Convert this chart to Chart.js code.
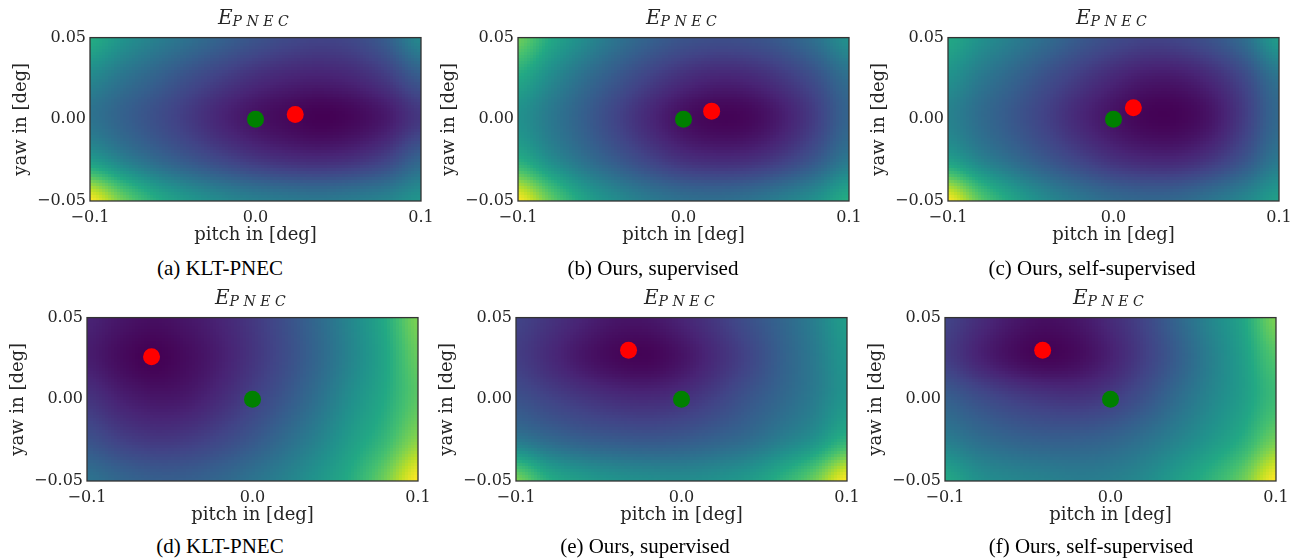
<!DOCTYPE html>
<html>
<head>
<meta charset="utf-8">
<script src="https://cdn.jsdelivr.net/npm/chart.js@4.4.1/dist/chart.umd.min.js"></script>
<style>
  body { margin: 0; background: #fff; }
  #fig { position: relative; width: 1302px; height: 559px; overflow: hidden; background: #fff; }
  .panel { position: absolute; }
  .ttl { position: absolute; transform: translate(-50%, -50%); font-family: 'DejaVu Serif'; font-style: italic; color: #262626; white-space: nowrap; line-height: 1; }
  .ttl .e { font-size: 20px; }
  .ttl .sub { font-size: 14px; letter-spacing: 4.5px; position: relative; top: 2px; }
  .cap { position: absolute; transform: translate(-50%, -50%); font-family: 'Liberation Serif'; font-size: 21px; color: #000; white-space: nowrap; }
</style>
</head>
<body>
<div id="fig"></div>
<script>
// tick values and labels
var pitchTicks = [-0.1, 0.0, 0.1];
var pitchTickLabels = ['\u22120.1', '0.0', '0.1'];
var yawTicks = [-0.05, 0.0, 0.05];
var yawTickLabels = ['\u22120.05', '0.00', '0.05'];

// sample grid of the energy maps (normalised 0..1)
var gridPitch = [-0.1, -0.08, -0.06, -0.04, -0.02, 0.0, 0.02, 0.04, 0.06, 0.08, 0.1];
var gridYaw = [0.05, 0.025, 0.0, -0.025, -0.05];

var energyA = [
  [0.62, 0.51, 0.43, 0.37, 0.31, 0.26, 0.22, 0.20, 0.22, 0.30, 0.47],
  [0.46, 0.38, 0.31, 0.24, 0.18, 0.13, 0.10, 0.09, 0.11, 0.17, 0.28],
  [0.38, 0.31, 0.24, 0.17, 0.10, 0.05, 0.02, 0.00, 0.02, 0.07, 0.16],
  [0.54, 0.43, 0.34, 0.27, 0.21, 0.16, 0.13, 0.12, 0.14, 0.20, 0.32],
  [1.00, 0.78, 0.62, 0.53, 0.47, 0.43, 0.41, 0.40, 0.42, 0.45, 0.52]
];
var energyB = [
  [0.78, 0.60, 0.48, 0.38, 0.31, 0.26, 0.24, 0.25, 0.29, 0.37, 0.50],
  [0.60, 0.47, 0.36, 0.27, 0.19, 0.13, 0.10, 0.11, 0.16, 0.24, 0.36],
  [0.50, 0.40, 0.30, 0.20, 0.11, 0.04, 0.01, 0.02, 0.08, 0.18, 0.32],
  [0.62, 0.48, 0.37, 0.28, 0.20, 0.14, 0.12, 0.13, 0.18, 0.27, 0.40],
  [1.00, 0.76, 0.58, 0.48, 0.41, 0.37, 0.36, 0.38, 0.43, 0.50, 0.62]
];
var energyC = [
  [0.60, 0.50, 0.42, 0.35, 0.28, 0.23, 0.20, 0.21, 0.26, 0.36, 0.55],
  [0.50, 0.40, 0.32, 0.24, 0.17, 0.11, 0.07, 0.07, 0.12, 0.22, 0.38],
  [0.44, 0.35, 0.27, 0.19, 0.11, 0.05, 0.01, 0.01, 0.06, 0.18, 0.34],
  [0.56, 0.44, 0.35, 0.27, 0.20, 0.14, 0.11, 0.11, 0.16, 0.26, 0.40],
  [1.00, 0.74, 0.58, 0.47, 0.40, 0.35, 0.33, 0.34, 0.39, 0.46, 0.56]
];
var energyD = [
  [0.10, 0.06, 0.04, 0.06, 0.10, 0.16, 0.24, 0.34, 0.46, 0.60, 0.80],
  [0.08, 0.03, 0.00, 0.03, 0.08, 0.15, 0.23, 0.33, 0.45, 0.58, 0.76],
  [0.15, 0.09, 0.06, 0.07, 0.12, 0.19, 0.27, 0.37, 0.49, 0.60, 0.74],
  [0.25, 0.19, 0.16, 0.17, 0.21, 0.27, 0.35, 0.44, 0.55, 0.66, 0.82],
  [0.38, 0.33, 0.30, 0.30, 0.33, 0.38, 0.44, 0.52, 0.62, 0.78, 1.00]
];
var energyE = [
  [0.20, 0.15, 0.10, 0.06, 0.06, 0.10, 0.16, 0.24, 0.32, 0.42, 0.55],
  [0.18, 0.12, 0.06, 0.02, 0.01, 0.05, 0.12, 0.20, 0.30, 0.40, 0.52],
  [0.25, 0.20, 0.16, 0.13, 0.12, 0.14, 0.19, 0.26, 0.33, 0.41, 0.52],
  [0.40, 0.34, 0.30, 0.28, 0.27, 0.28, 0.31, 0.35, 0.42, 0.50, 0.64],
  [0.80, 0.62, 0.55, 0.51, 0.49, 0.48, 0.50, 0.54, 0.63, 0.77, 1.00]
];
var energyF = [
  [0.20, 0.13, 0.07, 0.04, 0.06, 0.12, 0.20, 0.32, 0.45, 0.58, 0.80],
  [0.18, 0.10, 0.04, 0.01, 0.03, 0.09, 0.18, 0.29, 0.42, 0.55, 0.72],
  [0.30, 0.24, 0.19, 0.16, 0.15, 0.18, 0.25, 0.35, 0.45, 0.55, 0.68],
  [0.42, 0.36, 0.32, 0.30, 0.30, 0.32, 0.37, 0.44, 0.52, 0.62, 0.78],
  [0.60, 0.50, 0.46, 0.44, 0.42, 0.43, 0.47, 0.55, 0.64, 0.77, 1.00]
];

// ground truth (green) and estimate (red), one entry per panel
var gtPitch = [0, 0, 0, 0, 0, 0];
var gtYaw = [0, 0, 0, 0, 0, 0];
var estPitch = [0.024, 0.017, 0.012, -0.061, -0.032, -0.041];
var estYaw = [0.003, 0.005, 0.007, 0.026, 0.030, 0.030];

var captions = ['(a) KLT-PNEC', '(b) Ours, supervised', '(c) Ours, self-supervised',
                '(d) KLT-PNEC', '(e) Ours, supervised', '(f) Ours, self-supervised'];
var energies = [energyA, energyB, energyC, energyD, energyE, energyF];

// layout: plot area corner and caption centre
var layout = [
  { left: 90, top: 36, capX: 220, capY: 268 },
  { left: 518, top: 36, capX: 653, capY: 268 },
  { left: 948, top: 36, capX: 1092, capY: 268 },
  { left: 87, top: 316, capX: 220, capY: 546 },
  { left: 516, top: 316, capX: 645, capY: 546 },
  { left: 945, top: 316, capX: 1091, capY: 546 }
];
var plotW = 331, plotH = 165, yAxisW = 90, xAxisH = 50, padTop = 12, padRight = 22;

var viridisStops = [
  [68, 1, 84], [72, 36, 117], [65, 68, 135], [53, 95, 141], [42, 120, 142], [33, 145, 140],
  [34, 168, 132], [68, 191, 112], [122, 209, 81], [189, 223, 38], [253, 231, 37]
];

function viridis(t) {
  t = Math.max(0, Math.min(1, t));
  var f = t * (viridisStops.length - 1);
  var i = Math.min(Math.floor(f), viridisStops.length - 2);
  var u = f - i;
  var a = viridisStops[i], b = viridisStops[i + 1];
  return 'rgb(' + Math.round(a[0] + (b[0] - a[0]) * u) + ',' + Math.round(a[1] + (b[1] - a[1]) * u) + ',' + Math.round(a[2] + (b[2] - a[2]) * u) + ')';
}

function cubic(p0, p1, p2, p3, t) {
  return p1 + 0.5 * t * (p2 - p0 + t * (2 * p0 - 5 * p1 + 4 * p2 - p3 + t * (3 * (p1 - p2) + p3 - p0)));
}

function sample(grid, pitch, yaw) {
  var nx = gridPitch.length, ny = gridYaw.length;
  var fx = (pitch - gridPitch[0]) / (gridPitch[nx - 1] - gridPitch[0]) * (nx - 1);
  var fy = (gridYaw[0] - yaw) / (gridYaw[0] - gridYaw[ny - 1]) * (ny - 1);
  var ix = Math.min(Math.floor(fx), nx - 2), iy = Math.min(Math.floor(fy), ny - 2);
  var tx = fx - ix, ty = fy - iy;
  function g(r, c) {
    r = Math.max(0, Math.min(ny - 1, r));
    c = Math.max(0, Math.min(nx - 1, c));
    return grid[r][c];
  }
  var rows = [];
  for (var r = -1; r <= 2; r++) {
    rows.push(cubic(g(iy + r, ix - 1), g(iy + r, ix), g(iy + r, ix + 1), g(iy + r, ix + 2), tx));
  }
  return cubic(rows[0], rows[1], rows[2], rows[3], ty);
}

var heatmapPlugin = {
  id: 'heatmap',
  beforeDatasetsDraw: function (chart, args, opts) {
    var grid = opts.energy;
    if (!grid) return;
    var xs = chart.scales.x, ys = chart.scales.y, ctx = chart.ctx;
    var nx = 110, ny = 55;
    ctx.save();
    for (var i = 0; i < nx; i++) {
      var pa = xs.min + (xs.max - xs.min) * i / nx;
      var pb = xs.min + (xs.max - xs.min) * (i + 1) / nx;
      var L = Math.floor(xs.getPixelForValue(pa)), R = Math.ceil(xs.getPixelForValue(pb));
      for (var j = 0; j < ny; j++) {
        var qa = ys.max - (ys.max - ys.min) * j / ny;
        var qb = ys.max - (ys.max - ys.min) * (j + 1) / ny;
        var T = Math.floor(ys.getPixelForValue(qa)), B = Math.ceil(ys.getPixelForValue(qb));
        ctx.fillStyle = viridis(sample(grid, (pa + pb) / 2, (qa + qb) / 2));
        ctx.fillRect(L, T, R - L, B - T);
      }
    }
    ctx.restore();
  },
  afterDraw: function (chart) {
    var a = chart.chartArea, ctx = chart.ctx;
    ctx.save();
    ctx.strokeStyle = '#333333';
    ctx.lineWidth = 1.3;
    ctx.strokeRect(a.left, a.top, a.right - a.left, a.bottom - a.top);
    ctx.restore();
  }
};

var fig = document.getElementById('fig');
var textColor = '#262626';

layout.forEach(function (p, k) {
  var wrap = document.createElement('div');
  wrap.className = 'panel';
  wrap.style.left = (p.left - yAxisW) + 'px';
  wrap.style.top = (p.top - padTop) + 'px';
  var canvas = document.createElement('canvas');
  canvas.width = yAxisW + plotW + padRight;
  canvas.height = padTop + plotH + xAxisH;
  wrap.appendChild(canvas);
  fig.appendChild(wrap);

  var ttl = document.createElement('div');
  ttl.className = 'ttl';
  ttl.innerHTML = '<span class="e">E</span><span class="sub">PNEC</span>';
  ttl.style.left = (p.left + plotW / 2) + 'px';
  ttl.style.top = (p.top - 19) + 'px';
  fig.appendChild(ttl);

  var cap = document.createElement('div');
  cap.className = 'cap';
  cap.textContent = captions[k];
  cap.style.left = p.capX + 'px';
  cap.style.top = p.capY + 'px';
  fig.appendChild(cap);

  new Chart(canvas.getContext('2d'), {
    type: 'scatter',
    data: {
      datasets: [
        { data: [{ x: gtPitch[k], y: gtYaw[k] }], backgroundColor: '#008000', borderWidth: 0, pointRadius: 8.5, pointHoverRadius: 8.5 },
        { data: [{ x: estPitch[k], y: estYaw[k] }], backgroundColor: '#ff0000', borderWidth: 0, pointRadius: 8.5, pointHoverRadius: 8.5 }
      ]
    },
    options: {
      responsive: false,
      animation: false,
      events: [],
      layout: { padding: { left: 0, top: padTop, right: padRight, bottom: 0 } },
      plugins: {
        legend: { display: false },
        tooltip: { enabled: false },
        heatmap: { energy: energies[k] }
      },
      scales: {
        x: {
          type: 'linear', min: -0.1, max: 0.1,
          afterBuildTicks: function (s) { s.ticks = pitchTicks.map(function (v) { return { value: v }; }); },
          afterFit: function (s) { s.height = xAxisH; },
          grid: { display: false, drawTicks: false },
          border: { display: false },
          ticks: {
            autoSkip: false, maxRotation: 0, padding: 7, color: textColor,
            font: { family: 'DejaVu Serif', size: 16 },
            callback: function (v, i) { return pitchTickLabels[i]; }
          },
          title: { display: true, text: 'pitch in [deg]', color: textColor, font: { family: 'DejaVu Serif', size: 18 }, padding: { top: 0, bottom: 5 } }
        },
        y: {
          type: 'linear', min: -0.05, max: 0.05,
          afterBuildTicks: function (s) { s.ticks = yawTicks.map(function (v) { return { value: v }; }); },
          afterFit: function (s) { s.width = yAxisW; },
          grid: { display: false, drawTicks: false },
          border: { display: false },
          ticks: {
            autoSkip: false, padding: 4, color: textColor,
            font: { family: 'DejaVu Serif', size: 16 },
            callback: function (v, i) { return yawTickLabels[i]; }
          },
          title: { display: true, text: 'yaw in [deg]', color: textColor, font: { family: 'DejaVu Serif', size: 18 }, padding: { top: 11, bottom: 0 } }
        }
      }
    },
    plugins: [heatmapPlugin]
  });
});
</script>
</body>
</html>
